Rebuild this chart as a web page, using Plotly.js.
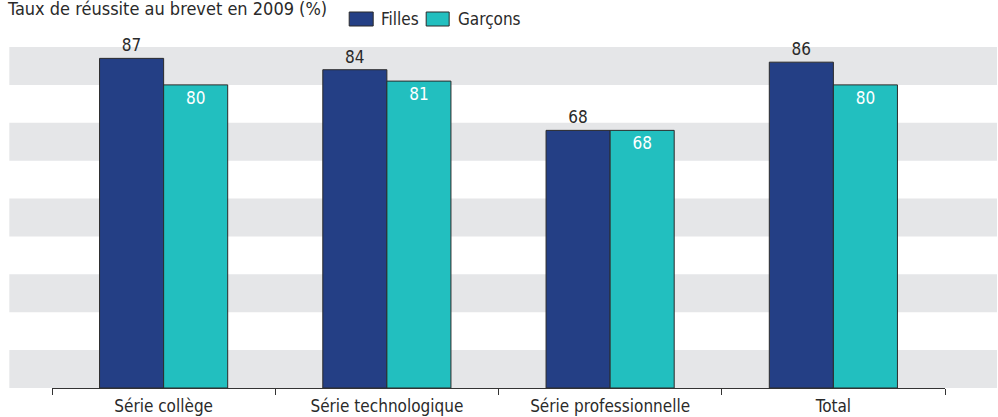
<!DOCTYPE html>
<html>
<head>
<meta charset="utf-8">
<script src="https://cdn.plot.ly/plotly-3.0.1.min.js"></script>
<style>html,body{margin:0;padding:0;background:#fff;}#chart{width:998px;height:417px;}</style>
</head>
<body>
<div id="chart"></div>
<script>
const categories = ["Série collège", "Série technologique", "Série professionnelle", "Total"];
const filles = [87, 84, 68, 86];
const garcons = [80, 81, 68, 80];
const seriesNames = ["Filles", "Garçons"];
const titleText = "Taux de réussite au brevet en 2009 (%)";
const bandStarts = [0, 20, 40, 60, 80];

const FONT = '"Liberation Sans Narrow", "DejaVu Sans Condensed", Arial Narrow, sans-serif';
const C_F = '#243f85';
const C_G = '#22bfbf';
const BAND = '#e5e6e8';

const traces = [
  {
    type: 'bar', name: seriesNames[0], x: categories, y: filles,
    marker: {color: C_F, line: {color: '#2b2b2b', width: 1}},
    text: filles.map(String), textposition: 'outside', cliponaxis: false,
    textfont: {family: FONT, size: 17, color: '#2a2a2a'},
    showlegend: false, hoverinfo: 'none'
  },
  {
    type: 'bar', name: seriesNames[1], x: categories, y: garcons,
    marker: {color: C_G, line: {color: '#2b2b2b', width: 1}},
    text: garcons.map(String), textposition: 'inside', insidetextanchor: 'end',
    textfont: {family: FONT, size: 17, color: '#ffffff'},
    showlegend: false, hoverinfo: 'none'
  }
];

const L = 51.7, R = 53, T = 47, B = 29, W = 998, H = 417;
const pw = W - L - R;
const px = v => (v - L) / pw;

const shapes = bandStarts.map(s => ({
  type: 'rect', layer: 'below', xref: 'paper', yref: 'y',
  x0: px(9), x1: px(997), y0: s, y1: s + 10,
  fillcolor: BAND, line: {width: 0}
}));

// custom legend
const ph = H - T - B;
const py = v => (H - B - v) / ph;
shapes.push({type:'rect', xref:'paper', yref:'paper', x0: px(349), x1: px(373), y0: py(26), y1: py(12), fillcolor: C_F, line:{color:'#2b2b2b', width:1}});
shapes.push({type:'rect', xref:'paper', yref:'paper', x0: px(426), x1: px(449), y0: py(26), y1: py(12), fillcolor: C_G, line:{color:'#2b2b2b', width:1}});

const annotations = [
  {xref:'paper', yref:'paper', x: px(379), y: py(19), xanchor:'left', yanchor:'middle', text: seriesNames[0], showarrow:false, font:{family: FONT, size: 17, color:'#2a2a2a'}},
  {xref:'paper', yref:'paper', x: px(456), y: py(19), xanchor:'left', yanchor:'middle', text: seriesNames[1], showarrow:false, font:{family: FONT, size: 17, color:'#2a2a2a'}}
];

const layout = {
  width: W, height: H,
  margin: {l: L, r: R, t: T, b: B, pad: 0},
  paper_bgcolor: '#fff', plot_bgcolor: 'rgba(0,0,0,0)',
  font: {family: FONT, size: 16, color: '#2a2a2a'},
  title: {text: titleText, x: 8 / W, xanchor: 'left', xref: 'container', y: (H - 2) / H, yanchor: 'top', yref: 'container', pad: {t: 0, b: 0, l: 0, r: 0}, font: {family: FONT, size: 18, color: '#2a2a2a'}},
  barmode: 'group', bargap: 0.426, bargroupgap: 0,
  showlegend: false,
  xaxis: {
    type: 'category', range: [-0.5, 3.5], showline: true, linecolor: '#333', linewidth: 1,
    ticks: 'outside', tickson: 'boundaries', ticklen: 6, tickcolor: '#333', tickwidth: 1,
    ticklabelstandoff: 3,
    showgrid: false, zeroline: false, fixedrange: true,
    tickfont: {family: FONT, size: 17, color: '#2a2a2a'}
  },
  yaxis: {range: [0, 90], showticklabels: false, showgrid: false, zeroline: false, ticks: '', fixedrange: true},
  shapes: shapes,
  annotations: annotations
};

Plotly.newPlot('chart', traces, layout, {displayModeBar: false, staticPlot: true});
</script>
</body>
</html>
